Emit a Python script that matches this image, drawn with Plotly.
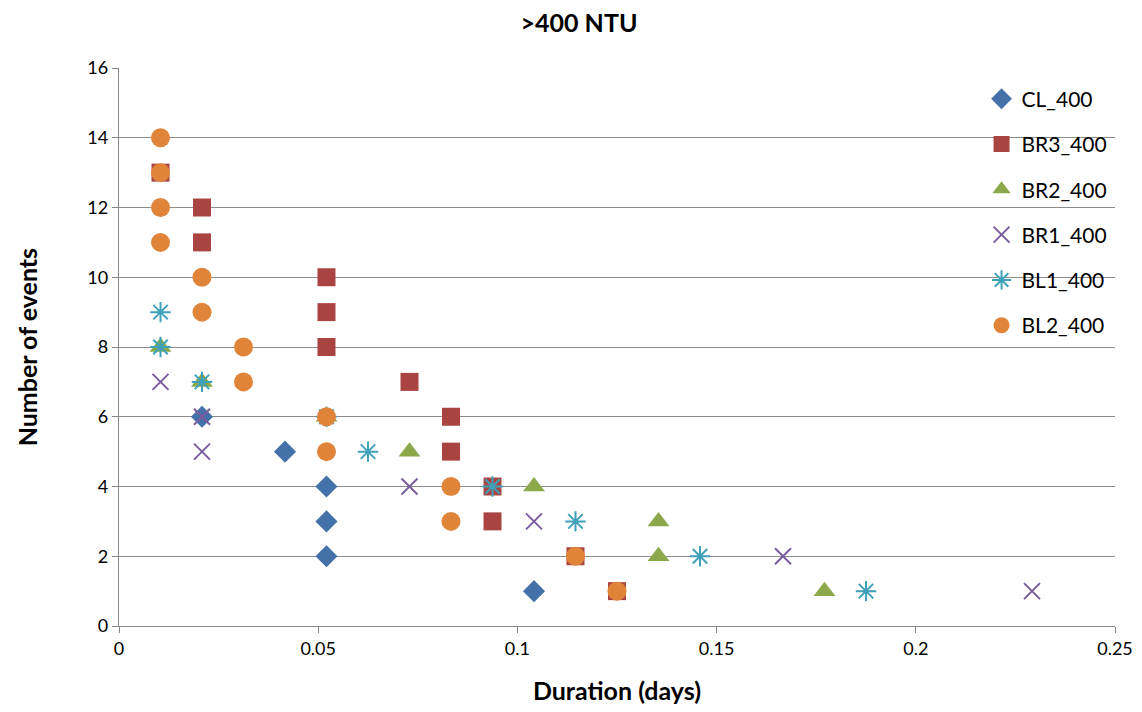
import plotly.graph_objects as go

cl_x = [0.02083, 0.04167, 0.05208, 0.05208, 0.05208, 0.10417]
cl_y = [6, 5, 4, 3, 2, 1]
br3_x = [0.01042, 0.02083, 0.02083, 0.05208, 0.05208, 0.05208, 0.07292, 0.08333, 0.08333, 0.09375, 0.09375, 0.11458, 0.125]
br3_y = [13, 12, 11, 10, 9, 8, 7, 6, 5, 4, 3, 2, 1]
br2_x = [0.01042, 0.02083, 0.05208, 0.07292, 0.10417, 0.13542, 0.13542, 0.17708]
br2_y = [8, 7, 6, 5, 4, 3, 2, 1]
br1_x = [0.01042, 0.02083, 0.02083, 0.07292, 0.10417, 0.16667, 0.22917]
br1_y = [7, 6, 5, 4, 3, 2, 1]
bl1_x = [0.01042, 0.01042, 0.02083, 0.05208, 0.0625, 0.09375, 0.11458, 0.14583, 0.1875]
bl1_y = [9, 8, 7, 6, 5, 4, 3, 2, 1]
bl2_x = [0.01042, 0.01042, 0.01042, 0.01042, 0.02083, 0.02083, 0.03125, 0.03125, 0.05208, 0.05208, 0.08333, 0.08333, 0.11458, 0.125]
bl2_y = [14, 13, 12, 11, 10, 9, 8, 7, 6, 5, 4, 3, 2, 1]

x_ticks = [0, 0.05, 0.1, 0.15, 0.2, 0.25]
x_tick_labels = ["0", "0.05", "0.1", "0.15", "0.2", "0.25"]
y_ticks = [0, 2, 4, 6, 8, 10, 12, 14, 16]

series = [
    ("CL_400", cl_x, cl_y, "diamond", "#4472A8", 17, 0),
    ("BR3_400", br3_x, br3_y, "square", "#A94442", 18, 0),
    ("BR2_400", br2_x, br2_y, "triangle-up", "#8BA84A", 19, 0),
    ("BR1_400", br1_x, br1_y, "x-thin-open", "#7B5CA0", 16, 2),
    ("BL1_400", bl1_x, bl1_y, "asterisk-open", "#3FA0BA", 17, 2),
    ("BL2_400", bl2_x, bl2_y, "circle", "#E0843A", 19, 0),
]

fig = go.Figure()
for i, (name, xs, ys, sym, col, sz, lw) in enumerate(series):
    marker = dict(symbol=sym, size=sz, color=col)
    if lw:
        marker["line"] = dict(color=col, width=lw)
    else:
        marker["line"] = dict(width=0)
    fig.add_trace(go.Scatter(x=xs, y=ys, mode="markers", name=name,
                             marker=marker, legendgroup=name))

font = "Lato, 'Open Sans', Arial, sans-serif"
fig.update_layout(
    width=1142, height=712,
    margin=dict(l=111, r=35, t=60, b=94),
    paper_bgcolor="white", plot_bgcolor="white",
    font=dict(family=font, size=18, color="black"),
    title=dict(text="<b>>400 NTU</b>", x=0.5, xanchor="center", y=0.979, yanchor="middle",
               font=dict(size=25, family=font)),
    legend=dict(x=0.866, y=0.981, xanchor="left", yanchor="top", tracegroupgap=15,
                bgcolor="rgba(0,0,0,0)", font=dict(size=21, family=font)),
    showlegend=True,
)
fig.add_annotation(text="<b>Number of events</b>", xref="paper", yref="paper",
                   x=-0.092, y=0.5, xanchor="center", yanchor="middle",
                   textangle=-90, showarrow=False, font=dict(size=25, family=font))
fig.update_xaxes(range=[0, 0.25], tickvals=x_ticks, ticktext=x_tick_labels,
                 showgrid=False, zeroline=False, showline=True, linecolor="#888888", linewidth=1.3,
                 ticks="outside", ticklen=6, tickcolor="#888888",
                 title=dict(text="<b>Duration (days)</b>", font=dict(size=25, family=font), standoff=24),
                 tickfont=dict(size=18))
fig.update_yaxes(range=[0, 16], tickvals=y_ticks, automargin=False,
                 showgrid=True, gridcolor="#8c8c8c", gridwidth=1.3, zeroline=False,
                 showline=True, linecolor="#888888", linewidth=1.3,
                 ticks="outside", ticklen=6, tickcolor="#888888",
                 tickfont=dict(size=18))

fig.write_html("out.html")
